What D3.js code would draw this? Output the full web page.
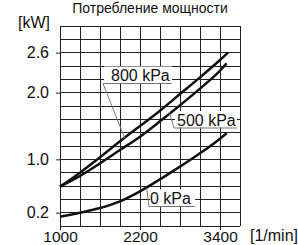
<!DOCTYPE html>
<html><head><meta charset="utf-8">
<script src="https://cdn.jsdelivr.net/npm/d3@7"></script>
<style>html,body{margin:0;padding:0;background:#fff;}svg{display:block;font-family:"Liberation Sans",Arial,sans-serif;}</style>
</head><body>
<script>
const title = "Потребление мощности";
const yUnit = "[kW]";
const xUnit = "[1/min]";
const xTicks = [1000, 2200, 3400];
const yTicks = [0.2, 1.0, 2.0, 2.6];
const rpm800 = [1000, 1300, 1600, 1900, 2200, 2500, 2800, 3100, 3400, 3520];
const kw800  = [0.59, 0.80, 1.03, 1.27, 1.50, 1.73, 1.98, 2.23, 2.49, 2.60];
const rpm500 = [1000, 1300, 1600, 1900, 2200, 2500, 2800, 3100, 3400, 3500];
const kw500  = [0.59, 0.75, 0.94, 1.14, 1.34, 1.57, 1.81, 2.06, 2.33, 2.44];
const rpm0   = [1000, 1300, 1600, 1900, 2200, 2500, 2800, 3100, 3400, 3500];
const kw0    = [0.14, 0.20, 0.27, 0.37, 0.52, 0.70, 0.89, 1.09, 1.31, 1.39];
const seriesNames = ["800 kPa", "500 kPa", "0 kPa"];

const W = 298, H = 245;
const svg = d3.select("body").append("svg").attr("width", W).attr("height", H);
const x = d3.scaleLinear().domain([1000, 3700]).range([60, 240]);
const y = d3.scaleLinear().domain([0, 3.0]).range([226, 26]);

// grid
const gx = d3.range(1000, 3701, 300), gy = d3.range(0, 3.001, 0.2);
svg.append("g").selectAll("line").data(gx).join("line")
  .attr("x1", d => x(d)).attr("x2", d => x(d)).attr("y1", y(0)).attr("y2", y(3.0))
  .attr("stroke", "#222").attr("stroke-width", 1).attr("shape-rendering", "crispEdges");
svg.append("g").selectAll("line").data(gy).join("line")
  .attr("x1", x(1000)).attr("x2", x(3700)).attr("y1", d => y(d)).attr("y2", d => y(d))
  .attr("stroke", "#222").attr("stroke-width", 1).attr("shape-rendering", "crispEdges");

// axes
const fs = 16;
const xa = svg.append("g").attr("transform", `translate(0,${y(0)})`)
  .call(d3.axisBottom(x).tickValues(xTicks).tickSize(4).tickPadding(1).tickFormat(d3.format("d")));
const ya = svg.append("g").attr("transform", `translate(${x(1000)},0)`)
  .call(d3.axisLeft(y).tickValues(yTicks).tickSize(4).tickPadding(7).tickFormat(d3.format(".1f")));
[xa, ya].forEach(a => {
  a.select(".domain").remove();
  a.selectAll("line").attr("stroke", "#222");
  a.selectAll("text").attr("font-size", fs).attr("fill", "#111").attr("font-family", "Liberation Sans, Arial, sans-serif");
});
xa.selectAll("text").attr("font-size", 15.5);

// curves
const line = d3.line().x(d => x(d[0])).y(d => y(d[1])).curve(d3.curveMonotoneX);
[[rpm800, kw800], [rpm500, kw500], [rpm0, kw0]].forEach(([r, k]) => {
  svg.append("path").datum(r.map((v, i) => [v, k[i]])).attr("d", line)
    .attr("fill", "none").attr("stroke", "#111").attr("stroke-width", 2.5);
});

// labels with leaders
function label(txt, tx, ty, ux0, ux1, uy, lx, ly) {
  svg.append("rect").attr("x", ux0 + 1).attr("y", uy - 17).attr("width", ux1 - ux0 - 1).attr("height", 16.5).attr("fill", "#fff");
  svg.append("text").attr("x", tx).attr("y", ty).attr("font-size", fs).attr("fill", "#111").text(txt);
  svg.append("line").attr("x1", ux0).attr("x2", ux1).attr("y1", uy).attr("y2", uy).attr("stroke", "#777").attr("stroke-width", 1);
  svg.append("line").attr("x1", ux0).attr("x2", lx).attr("y1", uy).attr("y2", ly).attr("stroke", "#777").attr("stroke-width", 1);
}
label(seriesNames[0], 111, 81, 103, 172, 83.5, x(1970), y(1.32));
label(seriesNames[1], 177, 126, 174, 237, 128, x(2640), y(1.71));
label(seriesNames[2], 150, 204, 149, 195, 206.5, x(2300), y(0.57));

// titles
svg.append("text").attr("x", 150).attr("y", 13).attr("text-anchor", "middle").attr("font-size", 14).attr("fill", "#111").text(title);
svg.append("text").attr("x", 18).attr("y", 28).attr("font-size", fs).attr("fill", "#111").text(yUnit);
svg.append("text").attr("x", 250).attr("y", 241).attr("font-size", fs).attr("fill", "#111").text(xUnit);
</script>
</body></html>
